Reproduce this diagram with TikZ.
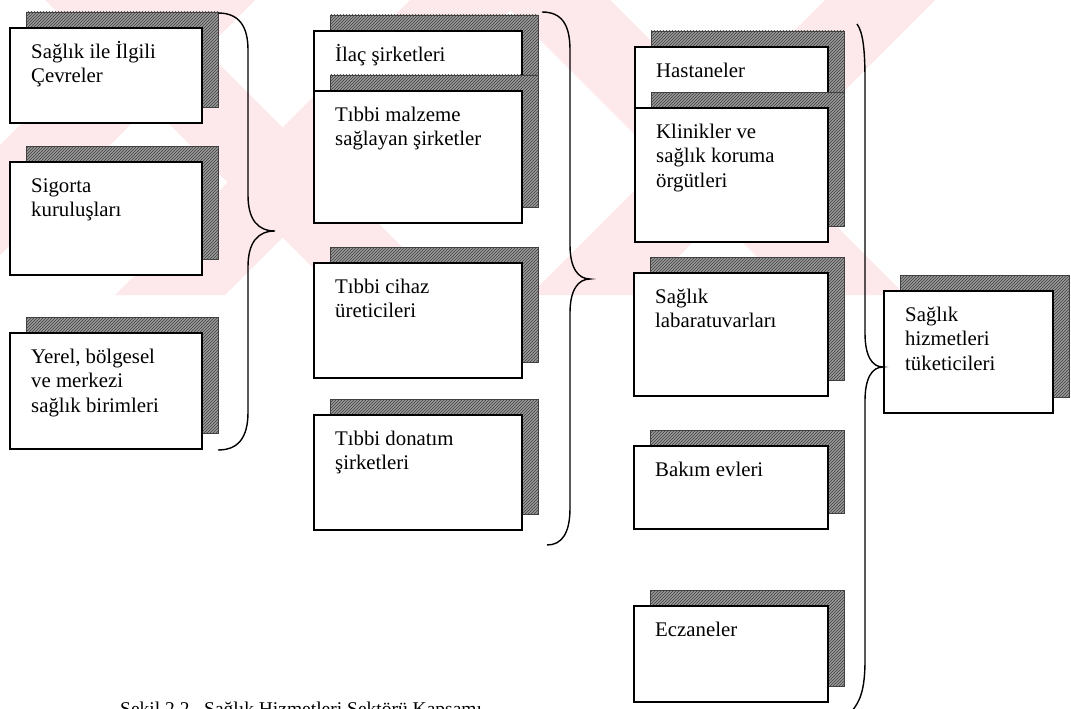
\documentclass[tikz,border=0pt]{standalone}
\usepackage{fontspec}
\setmainfont{Liberation Serif}
\usetikzlibrary{patterns}
\definecolor{wmpink}{HTML}{FDE8EB}
\tikzset{
  shadowbox/.style={fill=black!40, draw=black!75, line width=0.6pt,
    postaction={pattern=north east lines, pattern color=black!75}},
  frontbox/.style={fill=white, draw=black, line width=1.5pt, inner sep=0pt, outer sep=0pt},
  boxtext/.style={anchor=north west, inner sep=0pt, align=left,
    font=\fontsize{20.8}{24.5}\selectfont},
  bracepath/.style={draw=black, line width=1.4pt},
  band/.style={fill=wmpink, draw=none},
}
% box with hatched shadow: name, left, top, right, bottom, text
\newcommand\kutu[6]{%
  \path[shadowbox] (#2+16,#3-16) rectangle (#4+16,#5-16);
  \node[frontbox, anchor=north west, minimum width={#4-#2}, minimum height={#5-#3}] (#1) at (#2,#3) {};
  \node[boxtext] (#1-label) at (#2+21,#3+12) {\rule{0pt}{18pt}#6};
}
\begin{document}
\begin{tikzpicture}[x=1pt, y=-1pt]
\useasboundingbox[fill=white] (0,0) rectangle (1071,709);

% faint background bands
\begin{scope}
  \clip (0,0) rectangle (1071,295);
  \path[band] (-150,295) -- (-40,295) -- (255,0) -- (145,0) -- cycle;
  \path[band] (45,0) -- (155,0) -- (450,295) -- (340,295) -- cycle;
  \path[band] (115,295) -- (225,295) -- (520,0) -- (410,0) -- cycle;
  \path[band] (500,0) -- (610,0) -- (905,295) -- (795,295) -- cycle;
  \path[band] (530,295) -- (640,295) -- (935,0) -- (825,0) -- cycle;
\end{scope}

% first column
\kutu{cevre}{10}{28}{202}{123}{Sağlık ile İlgili\\Çevreler}
\kutu{sigorta}{10}{162}{202}{275}{Sigorta\\kuruluşları}
\kutu{yerel}{10}{333}{202}{449}{Yerel, bölgesel\\ve merkezi\\sağlık birimleri}

% second column
\kutu{ilac}{314}{31}{522}{110}{İlaç şirketleri}
\kutu{malzeme}{314}{91}{522}{223}{Tıbbi malzeme\\sağlayan şirketler}
\kutu{cihaz}{314}{263}{522}{378}{Tıbbi cihaz\\üreticileri}
\kutu{donatim}{314}{415}{522}{530}{Tıbbi donatım\\şirketleri}

% third column
\kutu{hastane}{635}{47}{828}{130}{Hastaneler}
\kutu{klinik}{635}{108}{828}{242}{Klinikler ve\\sağlık koruma\\örgütleri}
\kutu{lab}{634}{273}{828}{396}{Sağlık\\labaratuvarları}
\kutu{bakim}{634}{446}{828}{529}{Bakım evleri}
\kutu{eczane}{634}{606}{828}{702}{Eczaneler}

% consumers
\kutu{tuketici}{884}{291}{1053}{413}{Sağlık\\hizmetleri\\tüketicileri}

% braces
\coordinate (b1top) at (218,13);
\coordinate (b1tip) at (275,231);
\coordinate (b1bot) at (218,450);
\draw[bracepath] (b1top) .. controls (238,13) and (248,25) .. (248,50) -- (248,195)
  .. controls (248,220) and (258,231) .. (b1tip)
  .. controls (258,231) and (248,242) .. (248,267) -- (248,412)
  .. controls (248,438) and (238,450) .. (b1bot);

\coordinate (b2top) at (542,12);
\coordinate (b2tip) at (590,279);
\coordinate (b2bot) at (547,545);
\draw[bracepath] (b2top) .. controls (562,12) and (570,25) .. (570,50) -- (570,245)
  .. controls (570,268) and (578,279) .. (b2tip)
  .. controls (578,279) and (570,290) .. (570,313) -- (570,508)
  .. controls (570,533) and (562,545) .. (b2bot);

\coordinate (b3top) at (857,24);
\coordinate (b3tip) at (883,367);
\coordinate (b3bot) at (851,712);
\draw[bracepath] (b3top) .. controls (863,32) and (865,50) .. (865,80) -- (865,333)
  .. controls (865,356) and (872,367) .. (b3tip)
  .. controls (872,367) and (865,378) .. (865,401) -- (865,660)
  .. controls (865,690) and (860,702) .. (b3bot);

% caption, running off the lower edge
\node[anchor=base west, inner sep=0pt, font=\fontsize{19.5}{23}\selectfont] (caption)
  at (120,715) {Şekil 2.2.\ \ Sağlık Hizmetleri Sektörü Kapsamı};
\end{tikzpicture}
\end{document}
